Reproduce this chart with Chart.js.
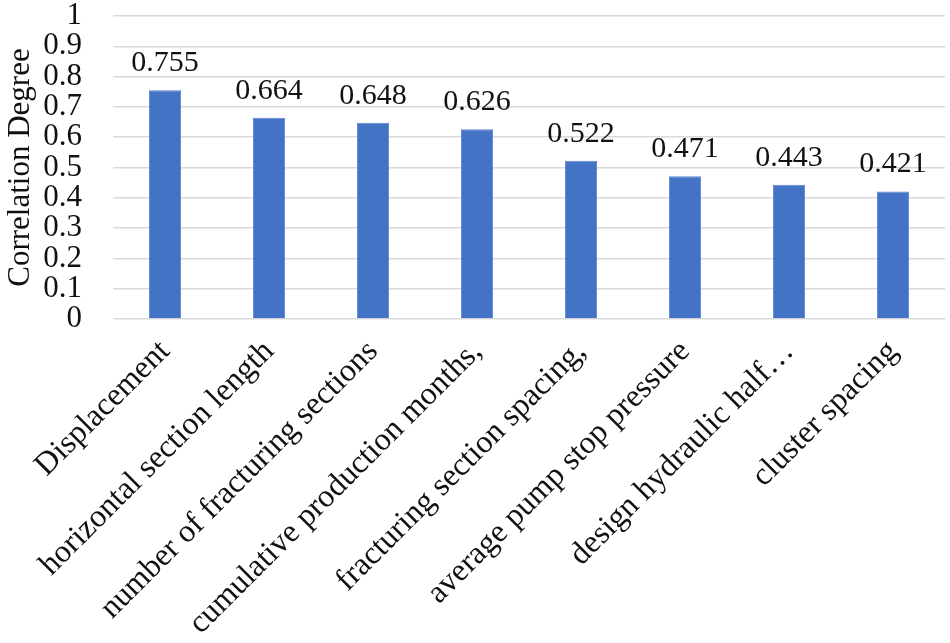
<!DOCTYPE html>
<html>
<head>
<meta charset="utf-8">
<script src="https://cdn.jsdelivr.net/npm/chart.js@4.4.0/dist/chart.umd.min.js"></script>
<style>
  body { margin: 0; background: #fff; }
  #wrap { width: 950px; height: 643px; }
</style>
</head>
<body>
<div id="wrap"><canvas id="chart" width="950" height="643"></canvas></div>
<script>
// factors and their correlation degree
const factors = [
    "Displacement",
    "horizontal section length",
    "number of fracturing sections",
    "cumulative production months,",
    "fracturing section spacing,",
    "average pump stop pressure",
    "design hydraulic half\u2026",
    "cluster spacing"
];
const degrees = [0.755, 0.664, 0.648, 0.626, 0.522, 0.471, 0.443, 0.421];
const yTicks = [0, 0.1, 0.2, 0.3, 0.4, 0.5, 0.6, 0.7, 0.8, 0.9, 1];

const serif = "'Liberation Serif', 'Times New Roman', serif";

// draw the value above each bar
const valueLabels = {
    id: 'valueLabels',
    afterDatasetsDraw(chart) {
        const ctx = chart.ctx;
        const meta = chart.getDatasetMeta(0);
        ctx.save();
        ctx.font = "30px " + serif;
        ctx.fillStyle = "#111";
        ctx.textAlign = "center";
        ctx.textBaseline = "bottom";
        meta.data.forEach((bar, i) => {
            ctx.fillText(degrees[i].toFixed(3), bar.x, bar.y - 12);
        });
        ctx.restore();
    }
};

new Chart(document.getElementById("chart"), {
    type: 'bar',
    data: {
        labels: factors,
        datasets: [{
            data: degrees,
            backgroundColor: '#4472C4',
            borderColor: '#5b84cc',
            borderWidth: 1,
            categoryPercentage: 1,
            barPercentage: 0.31
        }]
    },
    options: {
        responsive: false,
        animation: false,
        layout: { padding: { top: 0, right: 5, left: 0, bottom: 0 } },
        plugins: {
            legend: { display: false },
            tooltip: { enabled: false }
        },
        scales: {
            x: {
                grid: { display: false },
                border: { display: false },
                ticks: {
                    autoSkip: false,
                    maxRotation: 45,
                    minRotation: 45,
                    padding: 6,
                    color: '#111',
                    font: { family: serif, size: 32 }
                },
                afterFit(scale) {
                    scale.height = 324;
                    scale.paddingLeft = 0;
                    scale.paddingRight = 0;
                }
            },
            y: {
                min: 0,
                max: 1,
                afterBuildTicks(scale) {
                    scale.ticks = yTicks.map(v => ({ value: v }));
                },
                grid: { color: '#d9d9d9', lineWidth: 1.5, drawTicks: false },
                border: { display: false },
                ticks: {
                    autoSkip: false,
                    padding: 31,
                    color: '#111',
                    font: { family: serif, size: 31 },
                    callback: v => String(Math.round(v * 10) / 10)
                },
                title: {
                    display: true,
                    text: 'Correlation Degree',
                    color: '#111',
                    font: { family: serif, size: 31 },
                    padding: { top: 2, bottom: 0 }
                },
                afterFit(scale) {
                    scale.width = 113;
                    scale.paddingTop = 16;
                    scale.paddingBottom = 0;
                }
            }
        }
    },
    plugins: [valueLabels]
});
</script>
</body>
</html>
